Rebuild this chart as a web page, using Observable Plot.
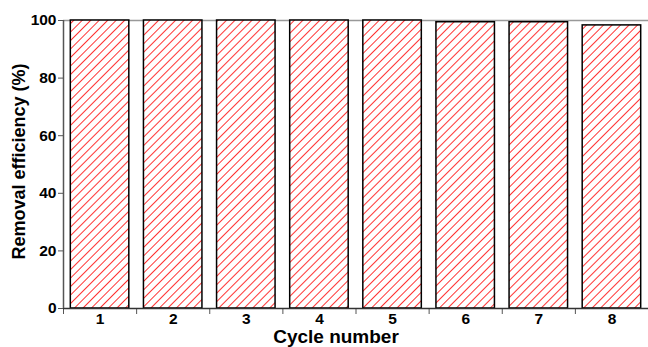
<!DOCTYPE html>
<html><head><meta charset="utf-8">
<script src="https://cdn.jsdelivr.net/npm/d3@7"></script>
<script src="https://cdn.jsdelivr.net/npm/@observablehq/plot@0.6"></script>
<style>body{margin:0;background:#fff}</style>
</head><body><div id="chart"></div>
<script>
const cycles = [1, 2, 3, 4, 5, 6, 7, 8];
const efficiency = [100, 100, 100, 100, 100, 99.4, 99.4, 98.3];
const yTicks = [0, 20, 40, 60, 80, 100];
const xTitle = "Cycle number";
const yTitle = "Removal efficiency (%)";
const data = cycles.map((c, i) => ({cycle: c, value: efficiency[i]}));
const boundaries = cycles.map(c => c - 0.5);

const chart = Plot.plot({
  width: 648, height: 347,
  marginLeft: 63, marginTop: 20, marginBottom: 39, marginRight: 0,
  style: {fontFamily: "'Liberation Sans', Arial, sans-serif", fontSize: "15.5px", fontWeight: "bold", color: "#000", background: "#fff"},
  x: {domain: [0.5, 8.5]},
  y: {domain: [0, 100]},
  marks: [
    Plot.ruleY([100], {stroke: "#999", strokeWidth: 1.5}),
    Plot.rectY(data, {x1: d => d.cycle - 0.4, x2: d => d.cycle + 0.4, y: "value", fill: "url(#hatch)", stroke: "#000", strokeWidth: 1.5}),
    Plot.axisY({ticks: yTicks, tickSize: 5, tickPadding: 2, stroke: "#555", label: null}),
    Plot.axisX({ticks: boundaries, tickSize: 6, tickFormat: () => "", stroke: "#555", label: null}),
    Plot.axisX({ticks: cycles, tickSize: 0, tickPadding: 4, label: null}),
    Plot.text([yTitle], {frameAnchor: "left", rotate: -90, dx: -44, dy: -3, textAnchor: "middle", lineAnchor: "middle", fontSize: 18, fontWeight: "bold", fill: "#000"}),
    Plot.text([xTitle], {frameAnchor: "bottom", dx: -20, dy: 28.5, fontSize: 19, fontWeight: "bold", fill: "#000", lineAnchor: "middle"}),
    Plot.ruleY([0], {stroke: "#333", strokeWidth: 1.5}),
    Plot.ruleX([0.5], {stroke: "#555", strokeWidth: 1.5})
  ]
});

const svg = d3.select(chart);
const defs = svg.insert("defs", ":first-child");
const pat = defs.append("pattern").attr("id", "hatch").attr("patternUnits", "userSpaceOnUse")
  .attr("width", 6).attr("height", 6).attr("patternTransform", "rotate(45)");
pat.append("rect").attr("width", 6).attr("height", 6).attr("fill", "#fff");
pat.append("line").attr("x1", 0).attr("y1", 0).attr("x2", 0).attr("y2", 6).attr("stroke", "#ff0000").attr("stroke-width", 1.6);
document.getElementById("chart").appendChild(chart);
</script>
</body></html>
